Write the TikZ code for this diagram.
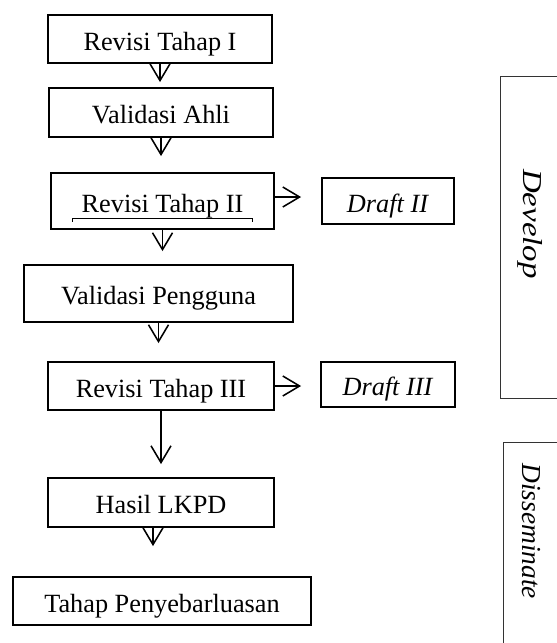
\documentclass[tikz,border=0pt]{standalone}
\usepackage{fontspec}
\setmainfont{Liberation Serif}
\usetikzlibrary{arrows.meta}

\begin{document}
\begin{tikzpicture}[
  box/.style={draw, line width=1.3pt, inner sep=0pt, text height=0.55cm, text depth=0pt, font=\fontsize{18.7}{22}\selectfont},
  arr/.style={-{Straight Barb[length=0.42cm,width=0.5cm]}, line width=1.1pt},
  phase/.style={draw=black!80, line width=0.7pt},
  phasetext/.style={rotate=-90, font=\fontsize{19.5}{22}\selectfont\itshape}]
\useasboundingbox (0,0) rectangle (13.925,-16.075);
\clip (0,0) rectangle (13.925,-16.075);
\node[box, minimum width=5.6cm, minimum height=1.2cm] (rev1) at (4.0,-0.975) {Revisi Tahap I};
\node[box, minimum width=5.6cm, minimum height=1.225cm] (vahli) at (4.025,-2.8125) {Validasi Ahli};
\node[box, minimum width=5.575cm, minimum height=1.4cm] (rev2) at (4.0625,-5.025) {Revisi Tahap II};
\node[box, minimum width=6.725cm, minimum height=1.425cm] (vpeng) at (3.9625,-7.3375) {Validasi Pengguna};
\node[box, minimum width=5.65cm, minimum height=1.2cm] (rev3) at (4.025,-9.65) {Revisi Tahap III};
\node[box, minimum width=5.65cm, minimum height=1.225cm] (hasil) at (4.025,-12.5625) {Hasil LKPD};
\node[box, minimum width=7.45cm, minimum height=1.2cm] (tahap) at (4.05,-15.025) {Tahap Penyebarluasan};
\node[box, minimum width=3.3cm, minimum height=1.15cm] (draft2) at (9.7,-5.025) {\textit{Draft II}};
\node[box, minimum width=3.35cm, minimum height=1.125cm] (draft3) at (9.7,-9.6125) {\textit{Draft III}};
\draw[line width=0.8pt] ([shift={(-2.26,0.2)}]rev2.south) -- ++(0,0.075) -- ++(4.5,0) -- ++(0,-0.075);
\draw[arr, shorten >=0.125cm] (rev1.south) -- (rev1.south |- vahli.north);
\draw[arr, shorten >=0.4cm] (vahli.south) -- (vahli.south |- rev2.north);
\draw[arr, shorten >=0.325cm] (rev2.south) -- (rev2.south |- vpeng.north);
\draw[arr, shorten >=0.45cm] (vpeng.south) -- (vpeng.south |- rev3.north);
\draw[arr, shorten >=0.325cm] (rev3.south) -- (rev3.south |- hasil.north);
\draw[arr, shorten >=0.75cm] ([xshift=-0.2cm]hasil.south) -- ([xshift=-0.2cm]hasil.south |- tahap.north);
\draw[arr, shorten >=0.5cm] ([yshift=0.1cm]rev2.east) -- ([yshift=0.1cm]rev2.east -| draft2.west);
\draw[arr, shorten >=0.475cm] (rev3.east) -- (rev3.east -| draft3.west);
\draw[phase] (14.3,-1.9) -- (12.5,-1.9) -- (12.5,-9.95) -- (14.3,-9.95);
\draw[phase] (14.3,-11.05) -- (12.575,-11.05) -- (12.575,-16.5);
\node[phasetext] (develop) at (13.25,-5.6) {\scalebox{1.2}[1]{Develop}};
\node[phasetext] (dissem) at (13.28,-13.28) {Disseminate};
\end{tikzpicture}
\end{document}
